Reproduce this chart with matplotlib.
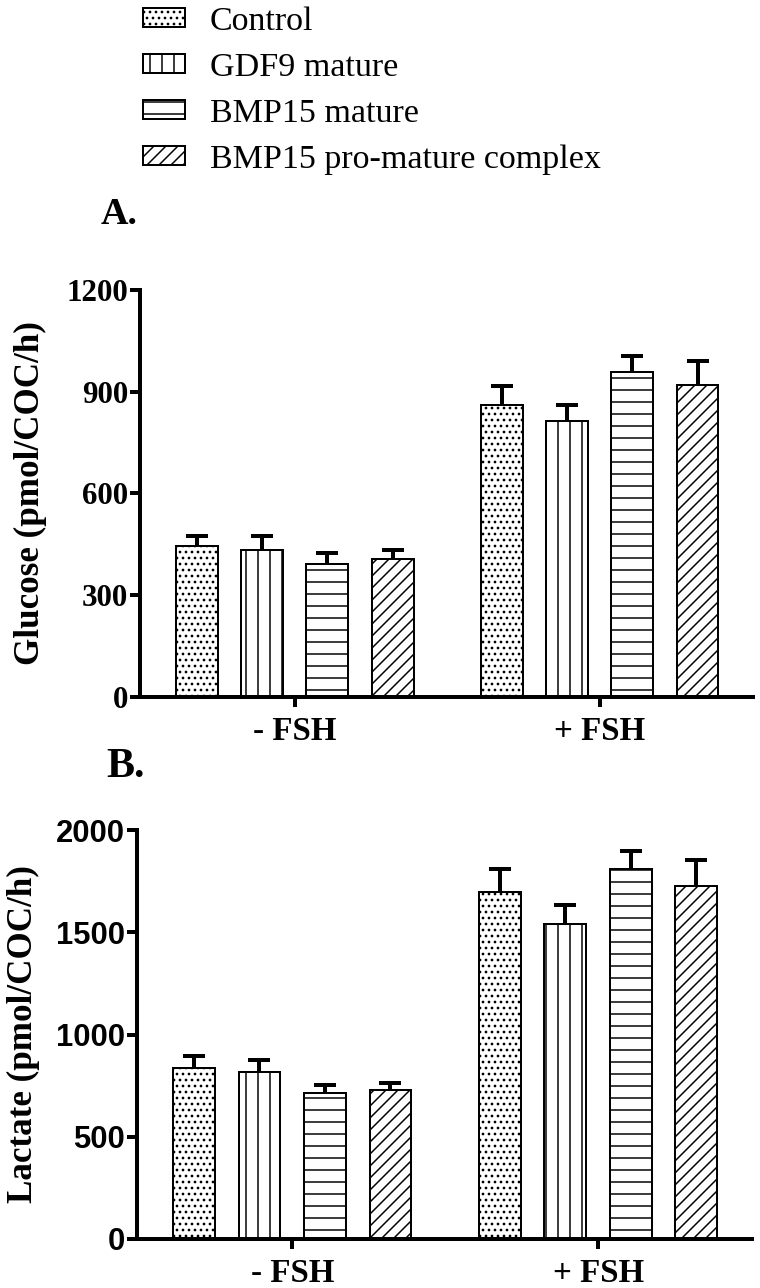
import matplotlib
matplotlib.use("Agg")
import matplotlib.pyplot as plt
import numpy as np

plt.rcParams['font.family'] = 'Liberation Serif'
plt.rcParams['hatch.linewidth'] = 1.5
plt.rcParams['hatch.color'] = 'black'

# data (mean, SEM); columns = [-FSH, +FSH]
series = ['Control', 'GDF9 mature', 'BMP15 mature', 'BMP15 pro-mature complex']
groups = ['- FSH', '+ FSH']
hatches = ['..', '|', '-', '//']

glucose_mean = [[445, 861], [433, 814], [392, 958], [407, 920]]
glucose_sem = [[30, 56], [42, 47], [33, 48], [27, 71]]
lactate_mean = [[836, 1697], [817, 1540], [714, 1809], [729, 1726]]
lactate_sem = [[59, 112], [58, 93], [39, 88], [34, 127]]

glucose_ticks = [0, 300, 600, 900, 1200]
lactate_ticks = [0, 500, 1000, 1500, 2000]

group_offset = 4.67
bar_width = 0.64


def draw_panel(ax, means, sems, ticks, ylabel, tick_font, label_x):
    handles = []
    for i, name in enumerate(series):
        x = np.array([i, i + group_offset])
        b = ax.bar(x, means[i], width=bar_width, color='white', edgecolor='black',
                   linewidth=2, hatch=hatches[i], label=name, zorder=2)
        handles.append(b)
        eb = ax.errorbar(x, means[i], yerr=[np.zeros(2), sems[i]], fmt='none',
                         ecolor='black', elinewidth=4, capsize=11, capthick=4, zorder=3)
        eb.lines[1][0].set_visible(False)   # only the upper cap

    ax.set_xlim(-0.87, 8.52)
    ax.set_ylim(0, ticks[-1])
    ax.set_yticks(ticks)
    ax.set_xticks([1.5, 1.5 + group_offset])
    ax.set_xticklabels(groups, fontsize=33, fontweight='bold')
    for lab in ax.get_yticklabels():
        lab.set_fontfamily(tick_font)
        lab.set_fontweight('bold')
        lab.set_fontsize(31)
    ax.tick_params(axis='y', length=10, width=4, pad=2)
    ax.tick_params(axis='x', length=10, width=4, pad=9)
    for s in ['top', 'right']:
        ax.spines[s].set_visible(False)
    for s in ['left', 'bottom']:
        ax.spines[s].set_linewidth(4)
    ax.set_ylabel(ylabel, fontsize=35, fontweight='bold', va='bottom')
    ax.yaxis.set_label_coords(label_x, 0.5)
    return handles


fig = plt.figure(figsize=(760 / 72, 1288 / 72), dpi=72)

ax1 = fig.add_axes([140 / 760, 1 - 697 / 1288, 613 / 760, 407 / 1288])
ax2 = fig.add_axes([137 / 760, 1 - 1239 / 1288, 615 / 760, 409 / 1288])

handles = draw_panel(ax1, glucose_mean, glucose_sem, glucose_ticks,
                     'Glucose (pmol/COC/h)', 'Liberation Serif', -0.151)
draw_panel(ax2, lactate_mean, lactate_sem, lactate_ticks,
           'Lactate (pmol/COC/h)', 'Liberation Sans', -0.158)

fig.text(101 / 760, 1 - 214 / 1288, 'A.', fontsize=38, fontweight='bold', va='center')
fig.text(106 / 760, 1 - 767 / 1288, 'B.', fontsize=42, fontweight='bold', va='center')

fig.legend(handles=handles, loc='upper left', bbox_to_anchor=(143 / 760, 1 - 6 / 1288),
           frameon=False, fontsize=34, handlelength=1.24, handleheight=0.47,
           handletextpad=0.72, labelspacing=0.46, borderpad=0, borderaxespad=0)

fig.savefig('out.png', dpi=72)
